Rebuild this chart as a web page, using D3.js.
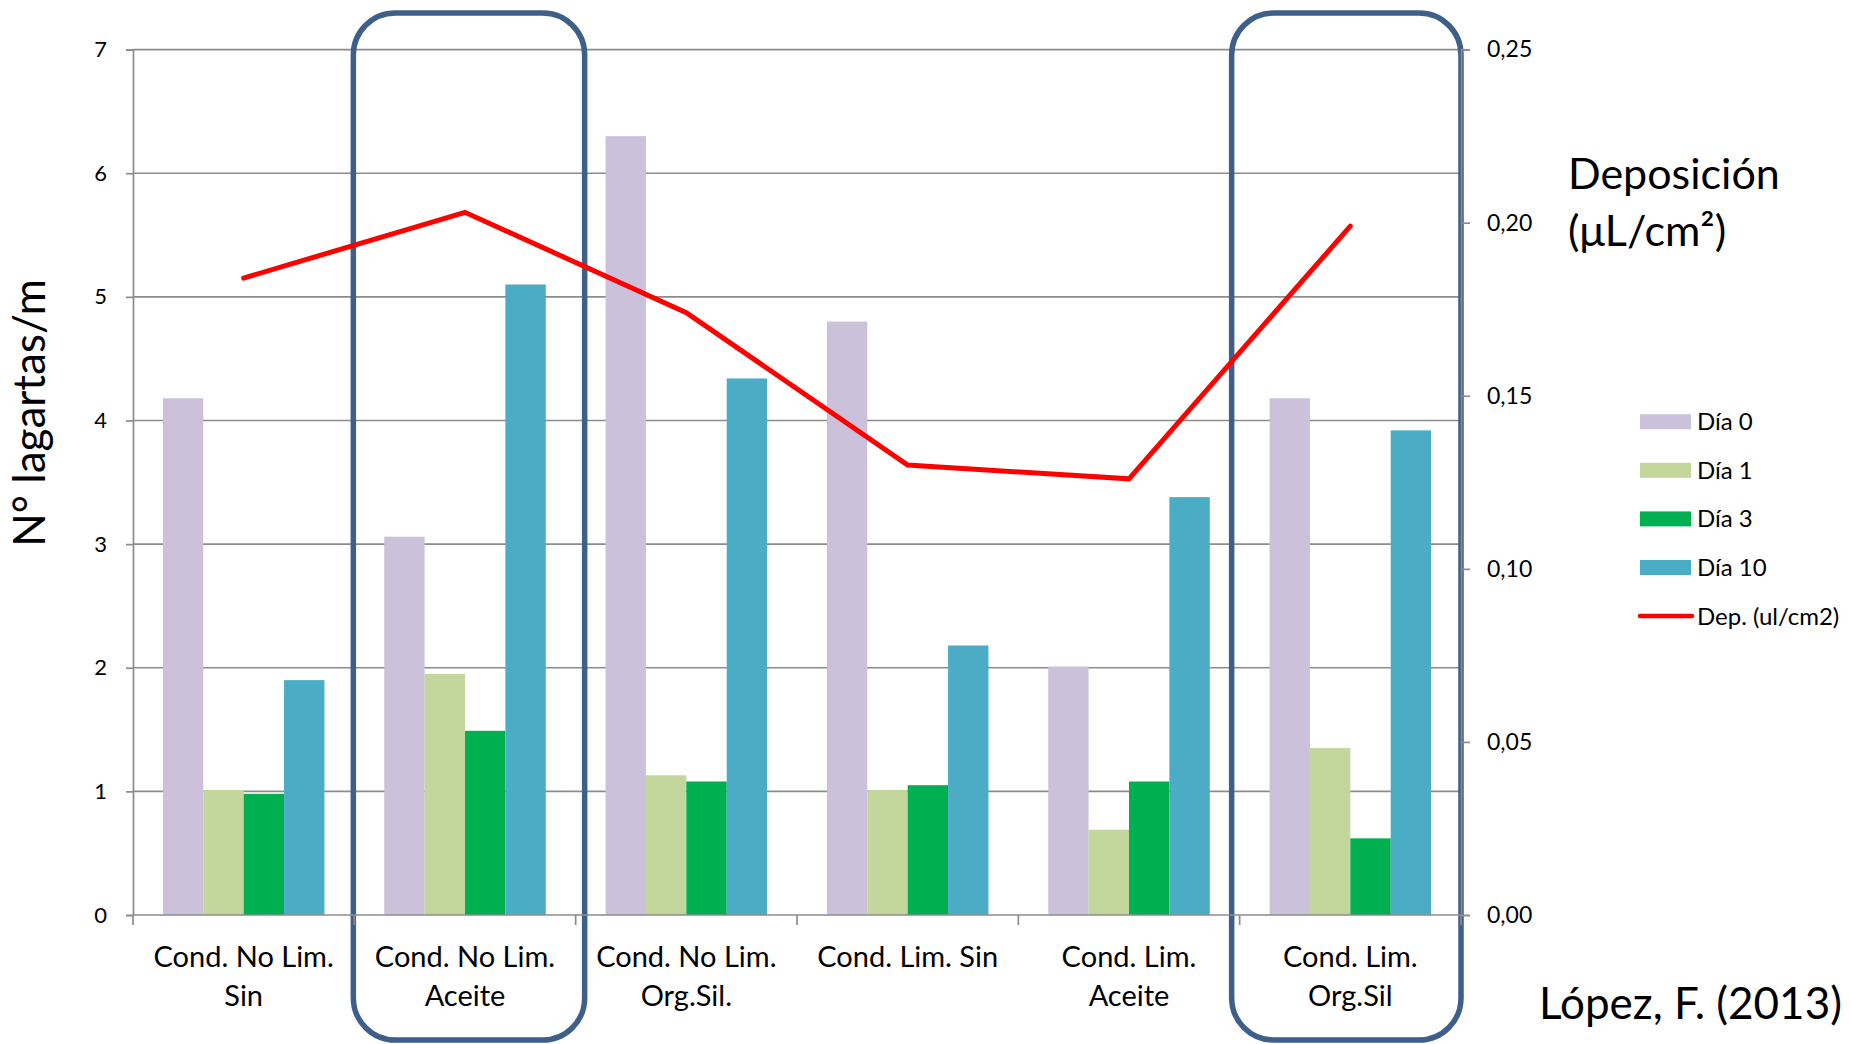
<!DOCTYPE html>
<html>
<head>
<meta charset="utf-8">
<script src="https://cdn.jsdelivr.net/npm/d3@7"></script>
<style>
  body { margin: 0; background: #fff; }
  svg { font-family: Lato, "Open Sans", sans-serif; }
</style>
</head>
<body>
<svg id="chart"></svg>
<script>
// data
const categories = ["Cond. No Lim.\nSin", "Cond. No Lim.\nAceite", "Cond. No Lim.\nOrg.Sil.",
                    "Cond. Lim. Sin", "Cond. Lim.\nAceite", "Cond. Lim.\nOrg.Sil"];
const seriesNames = ["Día 0", "Día 1", "Día 3", "Día 10"];
const dia0  = [4.18, 3.06, 6.30, 4.80, 2.01, 4.18];
const dia1  = [1.01, 1.95, 1.13, 1.01, 0.69, 1.35];
const dia3  = [0.98, 1.49, 1.08, 1.05, 1.08, 0.62];
const dia10 = [1.90, 5.10, 4.34, 2.18, 3.38, 3.92];
const deposicion = [0.184, 0.203, 0.174, 0.130, 0.126, 0.199];
const lineName = "Dep. (ul/cm2)";
const leftTicks = [0, 1, 2, 3, 4, 5, 6, 7];
const rightTicks = [0, 0.05, 0.10, 0.15, 0.20, 0.25];
const highlighted = ["Cond. No Lim.\nAceite", "Cond. Lim.\nOrg.Sil"];

const colors = ["#CCC1DA", "#C3D69B", "#00B050", "#4BACC6"];
const lineColor = "#FF0000";
const gridColor = "#8c8c8c";
const boxColor = "#3E5F8A";

const width = 1850, height = 1044;
const plot = { left: 133, right: 1461, top: 49.6, bottom: 915 };

const svg = d3.select("#chart").attr("width", width).attr("height", height);

const x = d3.scaleBand().domain(categories).range([plot.left, plot.right]).padding(0);
const x1 = d3.scaleBand().domain(seriesNames).range([0, x.bandwidth()]).paddingInner(0).paddingOuter(0.74);
const y = d3.scaleLinear().domain([0, 7]).range([plot.bottom, plot.top]);
const y2 = d3.scaleLinear().domain([0, 0.25]).range([plot.bottom, plot.top]);

const values = [dia0, dia1, dia3, dia10];
const rows = categories.map((c, i) => ({ cat: c, vals: seriesNames.map((s, j) => ({ key: s, v: values[j][i], color: colors[j] })) }));

// gridlines
svg.append("g").selectAll("line").data(leftTicks.filter(d => d > 0)).join("line")
  .attr("x1", plot.left).attr("x2", plot.right)
  .attr("y1", d => y(d)).attr("y2", d => y(d))
  .attr("stroke", gridColor).attr("stroke-width", 1.7);

// highlight boxes
const boxOffsets = { "Cond. No Lim.\nAceite": [-1, 9], "Cond. Lim.\nOrg.Sil": [-8, 0] };
svg.append("g").selectAll("rect").data(highlighted).join("rect")
  .attr("x", d => x(d) + boxOffsets[d][0])
  .attr("width", d => x.bandwidth() - boxOffsets[d][0] + boxOffsets[d][1])
  .attr("y", 13).attr("height", 1027)
  .attr("rx", 42).attr("ry", 42)
  .attr("fill", "none").attr("stroke", boxColor).attr("stroke-width", 5.5);

// bars
svg.append("g").selectAll("g").data(rows).join("g")
  .attr("transform", d => `translate(${x(d.cat)},0)`)
  .selectAll("rect").data(d => d.vals).join("rect")
  .attr("x", d => x1(d.key)).attr("width", x1.bandwidth())
  .attr("y", d => y(d.v)).attr("height", d => y(0) - y(d.v))
  .attr("fill", d => d.color);

// left axis
const yAxis = svg.append("g").attr("transform", `translate(${plot.left},0)`)
  .call(d3.axisLeft(y).tickValues(leftTicks).tickSize(7).tickPadding(19).tickFormat(d3.format("d")));
yAxis.select(".domain").attr("stroke", gridColor).attr("stroke-width", 1.7);
yAxis.selectAll(".tick line").attr("stroke", gridColor).attr("stroke-width", 1.7);
yAxis.selectAll("text").attr("font-size", 22).attr("fill", "#000").attr("font-family", "Lato");

// right axis
const y2Axis = svg.append("g").attr("transform", `translate(${plot.right},0)`)
  .call(d3.axisRight(y2).tickValues(rightTicks).tickSize(9).tickPadding(17)
    .tickFormat(d => d3.format(".2f")(d).replace(".", ",")));
y2Axis.select(".domain").attr("stroke", gridColor).attr("stroke-width", 1.7);
y2Axis.selectAll(".tick line").attr("stroke", gridColor).attr("stroke-width", 1.7);
y2Axis.selectAll("text").attr("font-size", 23).attr("fill", "#000").attr("font-family", "Lato");

// x axis with ticks at category boundaries
const xg = svg.append("g");
xg.append("line").attr("x1", plot.left).attr("x2", plot.right)
  .attr("y1", y(0)).attr("y2", y(0)).attr("stroke", gridColor).attr("stroke-width", 1.7);
xg.selectAll(".xt").data(categories.map(c => x(c)).concat([plot.right])).join("line")
  .attr("class", "xt")
  .attr("x1", d => d).attr("x2", d => d)
  .attr("y1", y(0)).attr("y2", y(0) + 10)
  .attr("stroke", gridColor).attr("stroke-width", 1.7);
xg.selectAll("text").data(categories).join("text")
  .attr("x", d => x(d) + x.bandwidth() / 2)
  .attr("y", 967)
  .attr("text-anchor", "middle").attr("font-size", 29).attr("fill", "#000")
  .each(function (d) {
    d.split("\n").forEach((t, i) => {
      d3.select(this).append("tspan").attr("x", x(d) + x.bandwidth() / 2).attr("dy", i === 0 ? 0 : 39).text(t);
    });
  });

// deposition line
const line = d3.line().x((d, i) => x(categories[i]) + x.bandwidth() / 2).y(d => y2(d));
svg.append("path").datum(deposicion)
  .attr("d", line).attr("fill", "none")
  .attr("stroke", lineColor).attr("stroke-width", 5).attr("stroke-linecap", "round");

// axis titles
svg.append("text")
  .attr("transform", "translate(45,413) rotate(-90)")
  .attr("text-anchor", "middle").attr("font-size", 44).text("N° lagartas/m");

svg.append("text").attr("x", 1568).attr("y", 189).attr("font-size", 43).text("Deposición");
svg.append("text").attr("x", 1568).attr("y", 246).attr("font-size", 43).text("(μL/cm²)");

// legend
const legend = svg.append("g");
const legY = 421.7, legStep = 48.6;
seriesNames.forEach((s, i) => {
  legend.append("rect").attr("x", 1640).attr("y", legY + i * legStep - 7.5)
    .attr("width", 51).attr("height", 15).attr("fill", colors[i]);
  legend.append("text").attr("x", 1697).attr("y", legY + i * legStep)
    .attr("dy", "0.35em").attr("font-size", 24).text(s);
});
legend.append("line").attr("x1", 1640).attr("x2", 1692)
  .attr("y1", legY + 4 * legStep).attr("y2", legY + 4 * legStep)
  .attr("stroke", lineColor).attr("stroke-width", 4.5).attr("stroke-linecap", "round");
legend.append("text").attr("x", 1697).attr("y", legY + 4 * legStep)
  .attr("dy", "0.35em").attr("font-size", 24).text(lineName);

// source note
svg.append("text").attr("x", 1539).attr("y", 1019).attr("font-size", 44).text("López, F. (2013)");
</script>
</body>
</html>
